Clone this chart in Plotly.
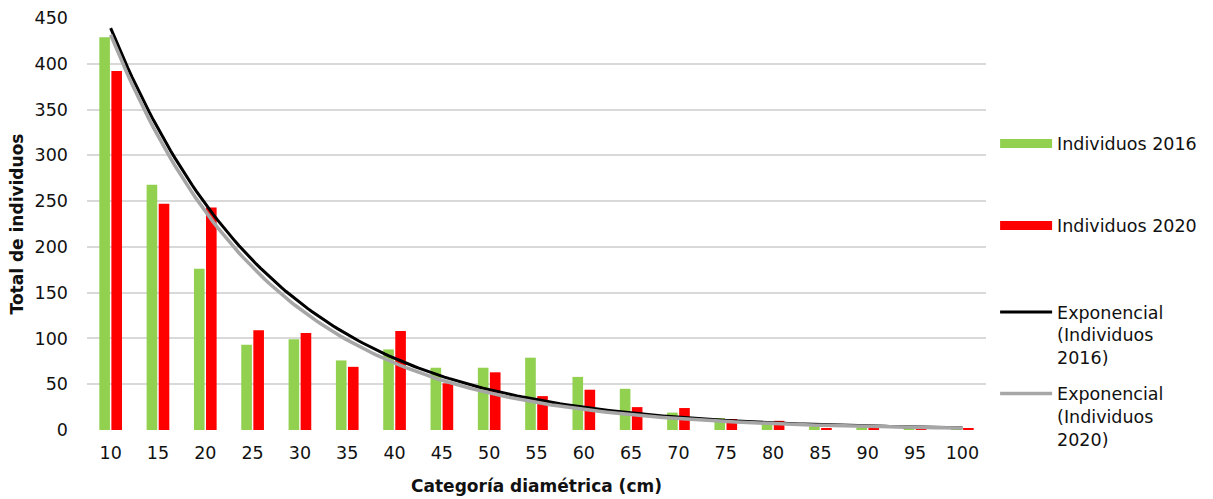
import numpy as np
import plotly.graph_objects as go

categories = ["10", "15", "20", "25", "30", "35", "40", "45", "50", "55",
              "60", "65", "70", "75", "80", "85", "90", "95", "100"]
individuos_2016 = [429, 268, 176, 93, 99, 76, 88, 68, 68, 79,
                   58, 45, 19, 13, 7, 4, 3, 3, 1]
individuos_2020 = [392, 247, 243, 109, 106, 69, 108, 51, 63, 37,
                   44, 25, 24, 12, 10, 2, 2, 2, 2]
y_ticks = [0, 50, 100, 150, 200, 250, 300, 350, 400, 450]

GREEN = "#92D050"
RED = "#FF0000"
FONT = "DejaVu Sans"
TXT = "#111111"

idx = np.arange(1, len(categories) + 1)


def exp_trend(values):
    # Excel-style exponential trendline: least squares on ln(y) vs category index
    b, ln_a = np.polyfit(idx, np.log(np.asarray(values, float)), 1)
    xs = np.linspace(1, len(categories), 200)
    return xs, np.exp(ln_a) * np.exp(b * xs)


fig = go.Figure()
fig.add_trace(go.Bar(x=idx, y=individuos_2016, marker_color=GREEN,
                     marker_line_width=0, showlegend=False))
fig.add_trace(go.Bar(x=idx, y=individuos_2020, marker_color=RED,
                     marker_line_width=0, showlegend=False))

x16, t16 = exp_trend(individuos_2016)
x20, t20 = exp_trend(individuos_2020)
fig.add_trace(go.Scatter(x=x16, y=t16, mode="lines",
                         line=dict(color="#000000", width=3),
                         name="Exponencial<br>(Individuos<br>2016)", legend="legend3"))
fig.add_trace(go.Scatter(x=x20, y=t20, mode="lines",
                         line=dict(color="#A6A6A6", width=3.5),
                         name="Exponencial<br>(Individuos<br>2020)", legend="legend4"))

# legend entries for the bars (drawn as thick line keys like the original)
fig.add_trace(go.Scatter(x=[None], y=[None], mode="lines",
                         line=dict(color=GREEN, width=9),
                         name="Individuos 2016", legend="legend"))
fig.add_trace(go.Scatter(x=[None], y=[None], mode="lines",
                         line=dict(color=RED, width=9),
                         name="Individuos 2020", legend="legend2"))

leg_common = dict(font=dict(family=FONT, size=17.5, color=TXT),
                  bgcolor="rgba(0,0,0,0)", itemwidth=52, valign="top",
                  xanchor="left", x=1.009)

fig.update_layout(
    width=1213, height=499,
    margin=dict(l=87, r=226, t=18, b=69),
    plot_bgcolor="white", paper_bgcolor="white",
    barmode="group", bargap=0.49, bargroupgap=0.12,
    font=dict(family=FONT, color=TXT),
    legend=dict(**leg_common, yanchor="middle", y=0.695),
    legend2=dict(**leg_common, yanchor="middle", y=0.496),
    legend3=dict(**leg_common, yanchor="top", y=0.330),
    legend4=dict(**leg_common, yanchor="top", y=0.132),
    xaxis=dict(
        range=[0.5, len(categories) + 0.5], automargin=False,
        tickmode="array", tickvals=idx, ticktext=categories,
        showgrid=False, zeroline=False, showline=False,
        ticks="", ticklabelstandoff=10,
        tickfont=dict(family=FONT, size=17.5, color=TXT),
        title=dict(text="<b>Categoría diamétrica (cm)</b>",
                   font=dict(family=FONT, size=17, color=TXT), standoff=18),
    ),
    yaxis=dict(
        range=[0, 450], automargin=False,
        tickmode="array", tickvals=y_ticks,
        showgrid=True, gridcolor="#D9D9D9", gridwidth=1.6,
        zeroline=False, showline=False, ticks="",
        ticklabelstandoff=18,
        tickfont=dict(family=FONT, size=17.5, color=TXT),
        title=dict(text="<b>Total de individuos</b>",
                   font=dict(family=FONT, size=17, color=TXT), standoff=6),
    ),
)

fig.write_html("out.html")
